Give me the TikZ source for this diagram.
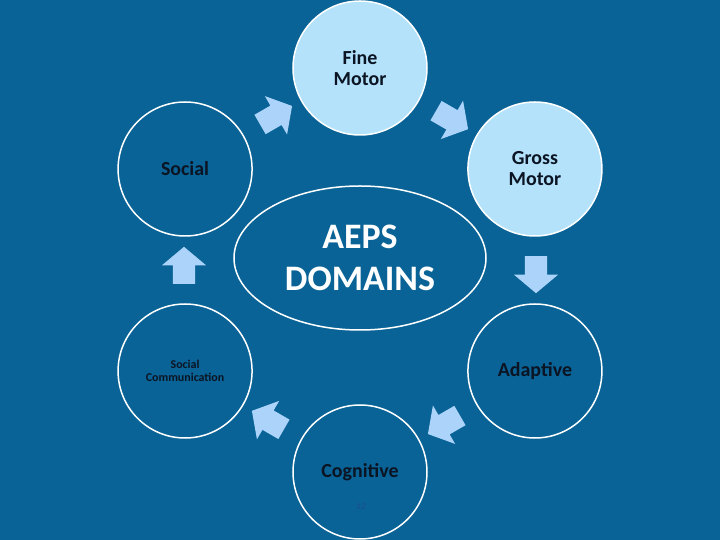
\documentclass[tikz,border=0pt]{standalone}
\usepackage{fontspec}
\setmainfont{Carlito}
\usepackage{tikz}
\usetikzlibrary{shapes.geometric, shapes.arrows}

\definecolor{slide}{RGB}{10,99,150}
\definecolor{paleblue}{RGB}{180,226,251}
\definecolor{arrowblue}{RGB}{172,212,250}
\definecolor{inkdark}{RGB}{10,20,35}
\definecolor{pagenum}{RGB}{30,75,145}

\begin{document}
\begin{tikzpicture}[x=1bp,y=1bp,
    ring/.style={circle,draw=white,line width=1.5bp,minimum size=134bp,inner sep=0pt,align=center,text=inkdark,font=\bfseries\fontsize{20}{21}\selectfont},
    motor/.style={ring,fill=paleblue},
    turn/.style={single arrow,fill=arrowblue,minimum height=37bp,inner xsep=0pt,inner ysep=11bp,single arrow head extend=11bp,single arrow head indent=0pt,single arrow tip angle=100}]
    \fill[slide] (-360,-270) rectangle (360,270);
    \useasboundingbox (-360,-270) rectangle (360,270);

    \node[ellipse,draw=white,line width=1.5bp,minimum width=252bp,minimum height=144bp,align=center,text=white,font=\bfseries\fontsize{36}{42}\selectfont] (aeps) at (0,12) {AEPS\\DOMAINS};

    \node[motor] (fine) at (90:202) {Fine\\Motor};
    \node[motor] (gross) at (30:202) {Gross\\Motor};
    \node[ring] (adapt) at (-30:202) {Adaptive};
    \node[ring] (cogn) at (-90:202) {Cognitive};
    \node[ring,font=\bfseries\fontsize{12}{12.5}\selectfont] (socom) at (-150:202) {Social\\Communication};
    \node[ring] (social) at (150:202) {Social};
    \node[text=pagenum,font=\fontsize{9}{10}\selectfont] (num) at (1,-237) {12};

    \node[turn,rotate=30] (t1) at (120:176) {};
    \node[turn,rotate=-30] (t2) at (60:176) {};
    \node[turn,rotate=-90] (t3) at (0:176) {};
    \node[turn,rotate=-150] (t4) at (-60:176) {};
    \node[turn,rotate=150] (t5) at (-120:176) {};
    \node[turn,rotate=90] (t6) at (180:176) {};
\end{tikzpicture}
\end{document}
